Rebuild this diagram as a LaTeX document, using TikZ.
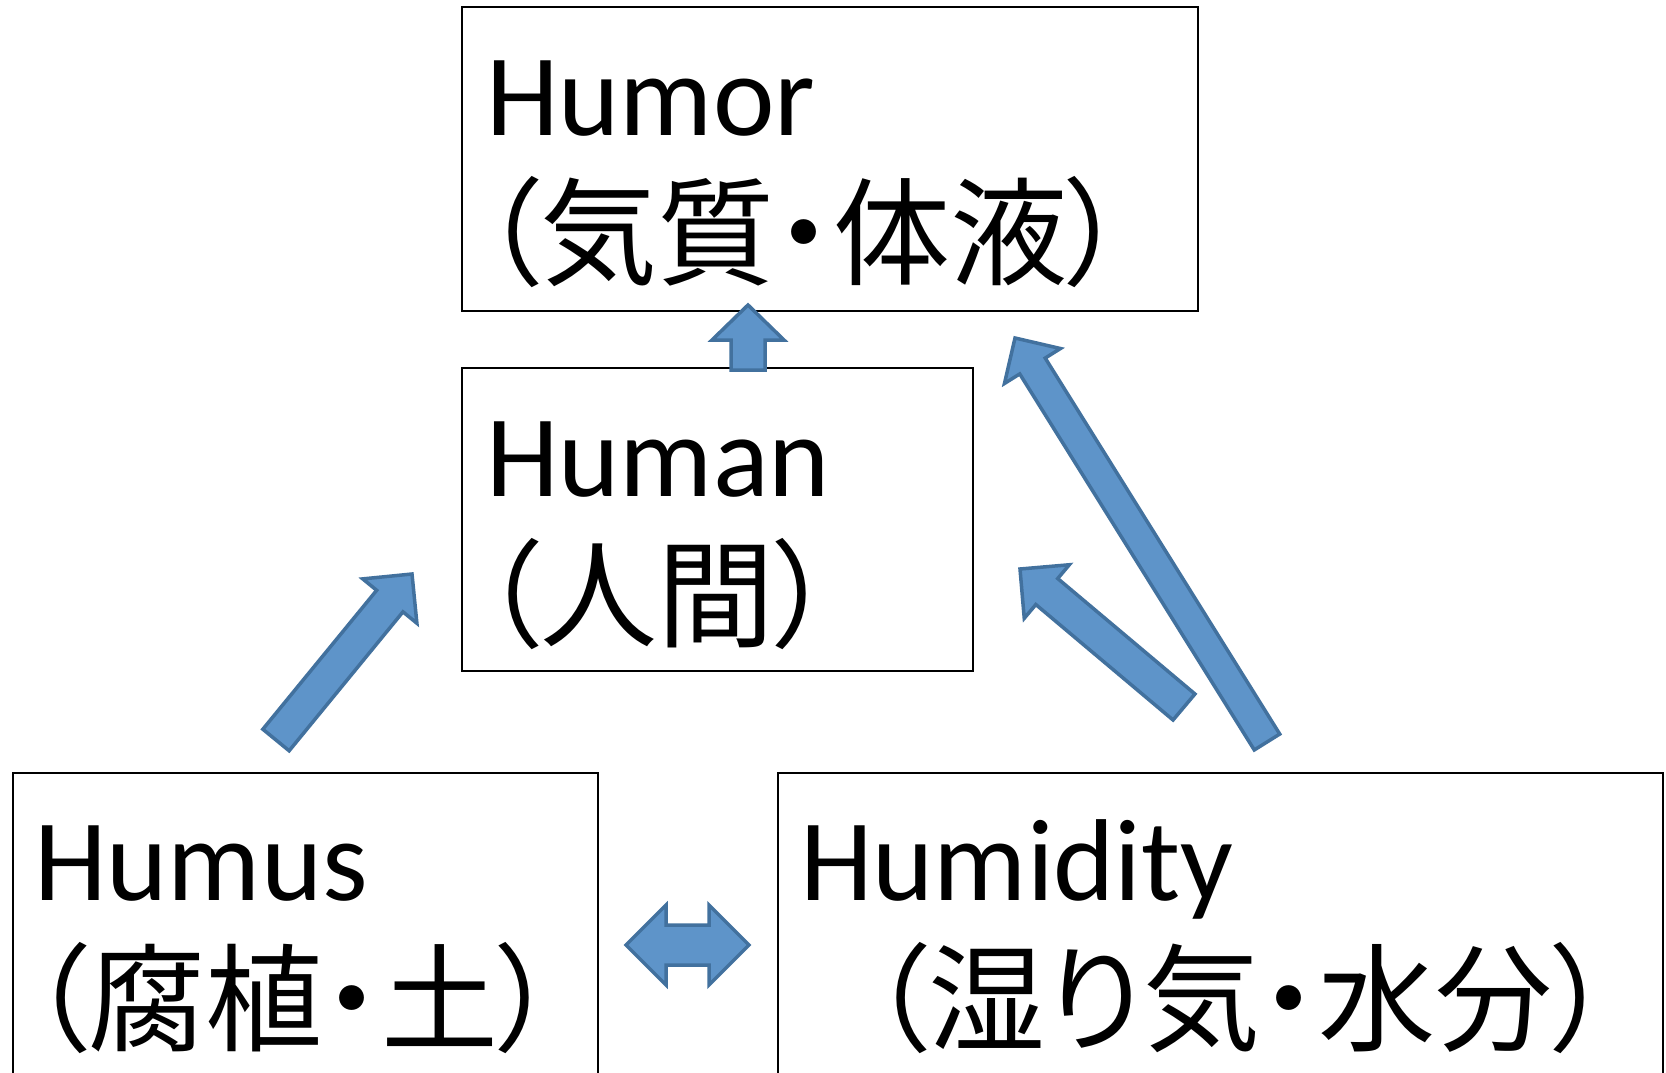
\documentclass[tikz,border=0pt]{standalone}
\usepackage{fontspec}
\setmainfont{Carlito}
\newfontfamily\jp[RawFeature=+palt]{Noto Sans CJK JP}
\newcommand\jpt{\fontsize{117}{142}\selectfont\jp}
\usetikzlibrary{calc}
\definecolor{afill}{RGB}{94,148,201}
\definecolor{aline}{RGB}{66,113,158}
% block arrow: #1 tail, #2 tip, #3 shaft half width, #4 head half width, #5 head length
\newcommand\barrow[5]{%
  \path ($(#2)!#5!(#1)$) coordinate (hb);
  \draw[blockarrow] ($(#1)!#3!90:(#2)$) -- ($(hb)!#3!90:(#2)$) -- ($(hb)!#4!90:(#2)$) -- (#2)
    -- ($(hb)!#4!-90:(#2)$) -- ($(hb)!#3!-90:(#2)$) -- ($(#1)!#3!-90:(#2)$) -- cycle;}
% double block arrow: #1 tip A, #2 tip B, #3 shaft half, #4 head half, #5 head length
\newcommand\dbarrow[5]{%
  \path ($(#1)!#5!(#2)$) coordinate (hA) ($(#2)!#5!(#1)$) coordinate (hB);
  \draw[blockarrow] (#1) -- ($(hA)!#4!90:(#2)$) -- ($(hA)!#3!90:(#2)$) -- ($(hB)!#3!-90:(#1)$)
    -- ($(hB)!#4!-90:(#1)$) -- (#2) -- ($(hB)!#4!90:(#1)$) -- ($(hB)!#3!90:(#1)$)
    -- ($(hA)!#3!-90:(#2)$) -- ($(hA)!#4!-90:(#2)$) -- cycle;}
\begin{document}
\begin{tikzpicture}[x=1pt,y=-1pt,
  box/.style={draw=black, line width=2pt, inner sep=0pt},
  txt/.style={inner sep=0pt, anchor=base west, font=\fontsize{116.5}{142}\selectfont},
  blockarrow/.style={fill=afill, draw=aline, line width=3.5pt}]
\useasboundingbox (0,0) rectangle (1666,1073);
\clip (0,0) rectangle (1666,1073);
\fill[white] (0,0) rectangle (1666,1073);
% boxes
\node[box, minimum width=736pt, minimum height=304pt] (humor) at (830,159) {};
\node[box, minimum width=511pt, minimum height=303pt] (human) at (717.5,519.5) {};
\node[box, minimum width=585pt, minimum height=327pt] (humus) at (305.5,936.5) {};
\node[box, minimum width=885pt, minimum height=327pt] (humidity) at (1220.5,936.5) {};
% texts
\node[txt] (humorT) at (486,135) {\parbox[t]{660pt}{Humor\\\hspace*{-4pt}\jpt （気質・体液）}};
\node[txt] (humanT) at (486,496) {\parbox[t]{440pt}{Human\\\hspace*{-4pt}\jpt （人間）}};
\node[txt] (humusT) at (34,900) {\parbox[t]{540pt}{Humus\\\hspace*{-4pt}\jpt （腐植・土）}};
\node[txt] (humidityT) at (800,900) {\parbox[t]{850pt}{Humidity\\\hspace*{70pt}\jpt （湿り気・水分）}};
% arrow end points
\coordinate (humanUp) at (748,370);
\coordinate (humorIn1) at (748,305);
\coordinate (humusOut) at (276,740);
\coordinate (humanIn1) at (412,574);
\coordinate (humidOut1) at (1184,707);
\coordinate (humanIn2) at (1020,569);
\coordinate (humidOut2) at (1267,742);
\coordinate (humorIn2) at (1015,338);
\coordinate (humusSide) at (626,945);
\coordinate (humidSide) at (749,945);
% arrows
\barrow{humanUp}{humorIn1}{17pt}{36pt}{35pt}
\barrow{humusOut}{humanIn1}{17pt}{35pt}{35pt}
\barrow{humidOut1}{humanIn2}{17pt}{35pt}{35pt}
\barrow{humidOut2}{humorIn2}{15pt}{33pt}{33pt}
\dbarrow{humusSide}{humidSide}{20pt}{40pt}{40pt}
\end{tikzpicture}
\end{document}
